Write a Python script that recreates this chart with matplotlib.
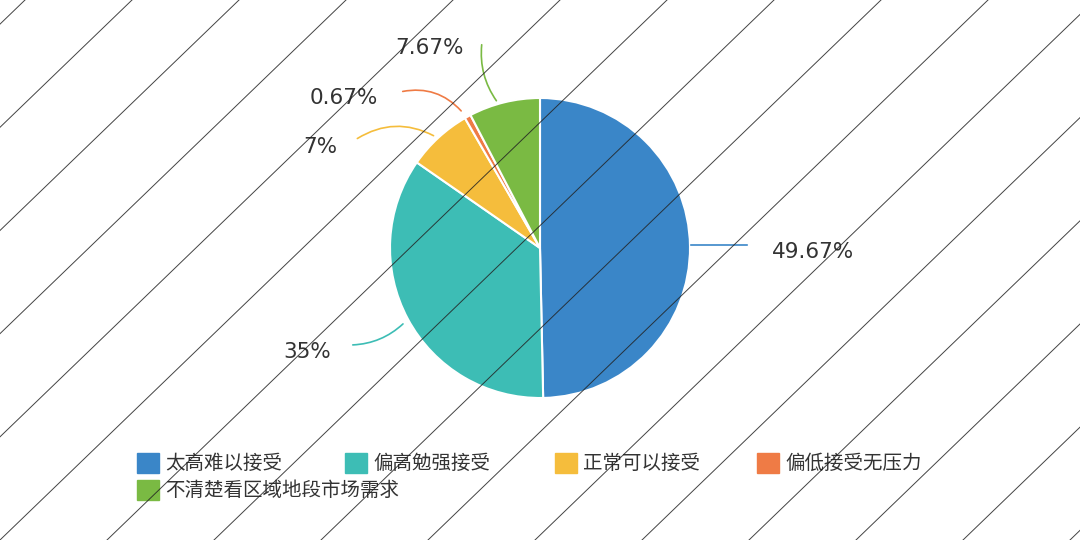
import matplotlib
matplotlib.use("Agg")
import matplotlib.pyplot as plt
from matplotlib.patches import Rectangle
from matplotlib.lines import Line2D

plt.rcParams['font.family'] = ['Noto Sans CJK SC', 'DejaVu Sans']

categories = ['太高难以接受', '偏高勉强接受', '正常可以接受', '偏低接受无压力', '不清楚看区域地段市场需求']
values = [49.67, 35, 7, 0.67, 7.67]
labels = ['49.67%', '35%', '7%', '0.67%', '7.67%']
colors = ['#3a86c8', '#3dbdb5', '#f5bd3c', '#ef7b45', '#7aba43']

W, H = 1080, 540
fig = plt.figure(figsize=(W/100, H/100), dpi=100)
fig.patch.set_facecolor('white')

cx, cy, r = 540, 248, 150
ax = fig.add_axes([(cx-r)/W, (H-cy-r)/H, 2*r/W, 2*r/H])
ax.pie(values, colors=colors, startangle=90, counterclock=False, radius=1,
       wedgeprops=dict(edgecolor='white', linewidth=1.5))
ax.set_xlim(-1, 1); ax.set_ylim(-1, 1); ax.set_aspect('equal'); ax.axis('off')

def d(px, py):
    return ((px-cx)/r, (cy-py)/r)

ann = [((772, 252), (688, 245), 'arc3,rad=0'),
       ((283, 352), (405, 322), 'arc3,rad=0.2'),
       ((303, 147), (436, 137), 'arc3,rad=-0.3'),
       ((310, 98), (463, 113), 'arc3,rad=-0.3'),
       ((395, 48), (498, 103), 'arc3,rad=0.2')]
line_end = [(750, 245), (350, 345), (355, 140), (400, 92), (482, 42)]
for i, ((tp, ap, cs), le) in enumerate(zip(ann, line_end)):
    ax.annotate('', xy=d(*ap), xytext=d(*le), annotation_clip=False,
                arrowprops=dict(arrowstyle='-', color=colors[i], lw=1.2, connectionstyle=cs))
    fig.text(tp[0]/W, 1-tp[1]/H, labels[i], fontsize=15.5, color='#333333',
             ha='left', va='center', family=['DejaVu Sans'])

leg = [(137, 463), (345, 463), (555, 463), (757, 463), (137, 490)]
for i, (lx, ly) in enumerate(leg):
    fig.add_artist(Rectangle((lx/W, 1-(ly+10)/H), 22/W, 20/H, color=colors[i],
                             transform=fig.transFigure))
    fig.text((lx+28)/W, 1-ly/H, categories[i], fontsize=14, color='#333333', va='center')

# watermark diagonal lines (on top)
for k in range(-6, 12):
    x0 = k * 107
    fig.add_artist(Line2D([x0/W, (x0+560)/W], [0, 1], color='#222222', lw=0.7,
                          transform=fig.transFigure, zorder=10, alpha=0.85))

fig.savefig('out.png', dpi=100)
